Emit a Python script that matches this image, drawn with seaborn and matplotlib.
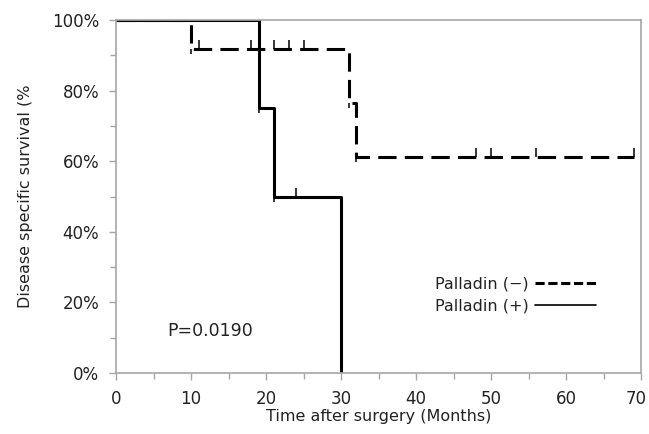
import matplotlib
matplotlib.use("Agg")
import matplotlib.pyplot as plt
import matplotlib.transforms as mtransforms
from matplotlib.lines import Line2D
from matplotlib.ticker import MultipleLocator, FuncFormatter
import seaborn as sns

# Palladin (-): step curve
neg_time = [0, 10, 31, 32, 69]
neg_surv = [100, 91.7, 76.4, 61.1, 61.1]
neg_cens_time = [11, 18, 21, 23, 25, 48, 50, 56, 69]
neg_cens_surv = [91.7, 91.7, 91.7, 91.7, 91.7, 61.1, 61.1, 61.1, 61.1]

# Palladin (+)
pos_time = [0, 19, 21, 30]
pos_surv = [100, 75, 50, 0]
pos_cens_time = [24]
pos_cens_surv = [50]

labels = ["Palladin (\u2212)", "Palladin (+)"]
p_text = "P=0.0190"

sns.set_style("white")
plt.rcParams["font.family"] = ["DejaVu Sans"]

fig = plt.figure(figsize=(6.49, 4.34), dpi=100)
ax = fig.add_axes([116 / 649, 1 - 373 / 434, 525 / 649, 353 / 434])

dash = (0, (6, 2.7))
sns.lineplot(x=neg_time, y=neg_surv, drawstyle="steps-post", estimator=None,
             sort=False, color="black", linewidth=2.2, linestyle=dash, ax=ax)
sns.lineplot(x=pos_time, y=pos_surv, drawstyle="steps-post", estimator=None,
             sort=False, color="black", linewidth=2.2, ax=ax)

# censor marks
ax.plot(neg_cens_time, neg_cens_surv, linestyle="none", marker=2,
        markersize=6.5, mew=1.1, color="black")
ax.plot(pos_cens_time, pos_cens_surv, linestyle="none", marker=2,
        markersize=6.5, mew=1.1, color="black")
# small marks at event points
ax.plot(neg_time[1:4], neg_surv[1:4], linestyle="none", marker=3,
        markersize=3.5, mew=1.1, color="black")
ax.plot(pos_time[1:3], pos_surv[1:3], linestyle="none", marker=3,
        markersize=3.5, mew=1.1, color="black")

ax.set_xlim(0, 70)
ax.set_ylim(0, 100)
ax.xaxis.set_major_locator(MultipleLocator(10))
ax.xaxis.set_minor_locator(MultipleLocator(5))
ax.yaxis.set_major_locator(MultipleLocator(20))
ax.yaxis.set_minor_locator(MultipleLocator(10))
ax.yaxis.set_major_formatter(FuncFormatter(lambda v, p: "%d%%" % v))

for s in ax.spines.values():
    s.set_color("#a6a6a6")
    s.set_linewidth(1.2)
    s.set_visible(True)
ax.tick_params(which="both", direction="out", color="#a6a6a6", width=1,
               labelsize=12, labelcolor="#222222")
ax.tick_params(which="major", length=5, pad=7)
ax.tick_params(which="minor", length=4)
ax.tick_params(axis="x", which="both", bottom=True)
ax.tick_params(axis="y", which="both", left=True)

# keep the "70" label inside the figure edge
fig.canvas.draw()
for lab in ax.get_xticklabels():
    if lab.get_text() == "70":
        lab.set_transform(lab.get_transform() +
                          mtransforms.ScaledTranslation(-5 / 100, 0, fig.dpi_scale_trans))

ax.set_xlabel("Time after surgery (Months)", fontsize=11.5, color="#222222",
              labelpad=1)
ax.set_ylabel("Disease specific survival (%", fontsize=11.5, color="#222222",
              labelpad=14)

ax.text(6.8, 11.9, p_text, fontsize=12.5, va="center", ha="left",
        color="#222222")

handles = [Line2D([], [], color="black", linewidth=2.2, linestyle=(0, (3, 1.2))),
           Line2D([], [], color="black", linewidth=1.2)]
leg = ax.legend(handles, labels, markerfirst=False, frameon=False,
                fontsize=11.5, handlelength=3.8, handletextpad=0.4,
                labelspacing=0.45, loc="center left",
                bbox_to_anchor=(0.595, 0.22), borderaxespad=0)
for t in leg.get_texts():
    t.set_color("#222222")

fig.savefig("out.png", dpi=100)
